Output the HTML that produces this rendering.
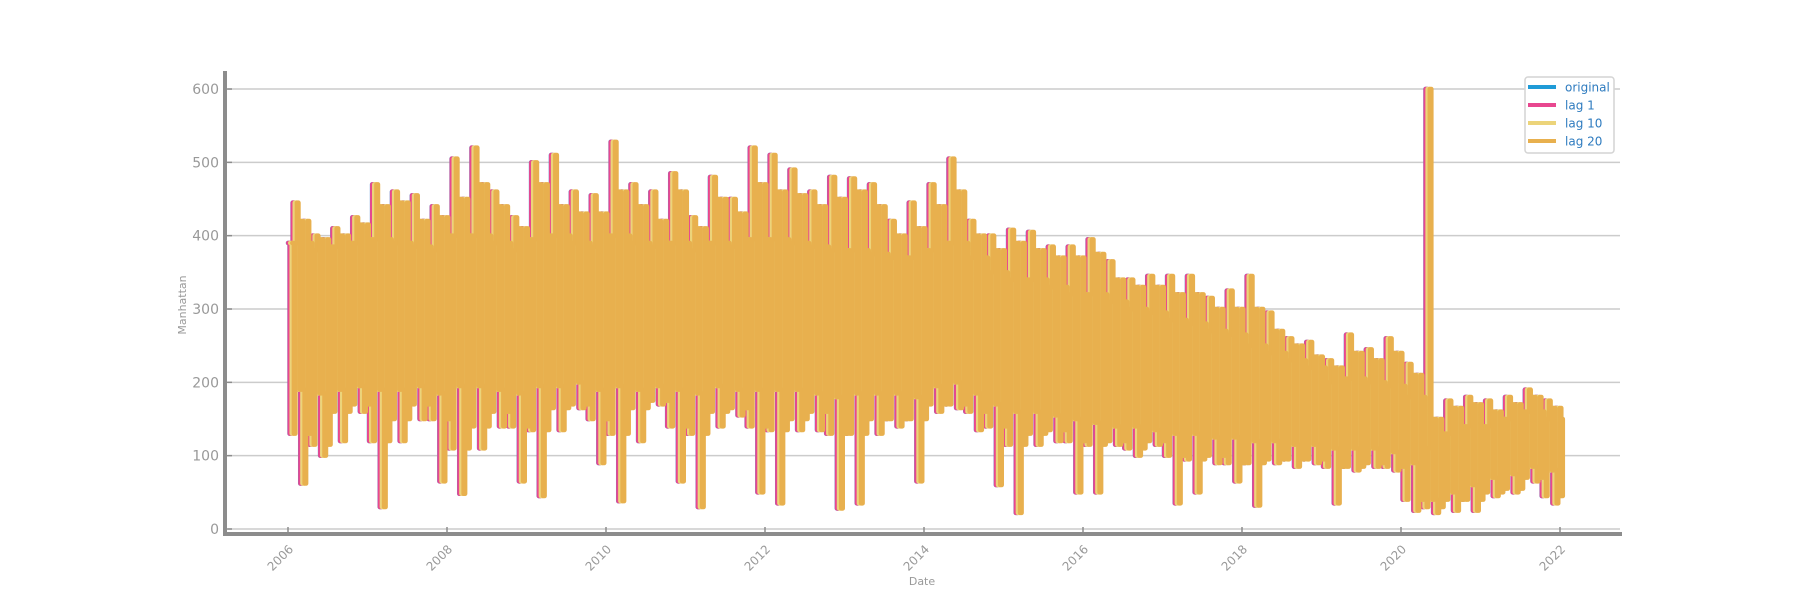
<!DOCTYPE html>
<html><head><meta charset="utf-8"><style>
body{margin:0;background:#fff;font-family:"Liberation Sans","DejaVu Sans",sans-serif}
svg{display:block}
text{font-family:"DejaVu Sans","Liberation Sans",sans-serif}
</style></head><body>
<svg id="chart" width="1800" height="600" viewBox="0 0 1800 600" xmlns="http://www.w3.org/2000/svg">
<g id="grid"></g>
<g id="series"></g>
<g id="axes"></g>
<g id="legend">
<rect x="1525" y="77" width="89" height="76" rx="3" fill="#fff" stroke="#d4d4d4" stroke-width="1.5"/>
<line x1="1528" y1="87" x2="1556" y2="87" stroke="#1f9bd7" stroke-width="4"/>
<text x="1565" y="91.5" font-size="12" fill="#2e7bbf">original</text>
<line x1="1528" y1="105" x2="1556" y2="105" stroke="#e8478f" stroke-width="4"/>
<text x="1565" y="109.5" font-size="12" fill="#2e7bbf">lag 1</text>
<line x1="1528" y1="123" x2="1556" y2="123" stroke="#ecd47a" stroke-width="4"/>
<text x="1565" y="127.5" font-size="12" fill="#2e7bbf">lag 10</text>
<line x1="1528" y1="141" x2="1556" y2="141" stroke="#e8b04e" stroke-width="4"/>
<text x="1565" y="145.5" font-size="12" fill="#2e7bbf">lag 20</text>
</g>
</svg>
<script>
// Quarterly data, 2006 Q1 .. 2021 Q4
const quarterStart = 2006;
const peakValues = [445,400,410,425, 470,460,455,440, 505,520,460,425, 500,510,460,455,
  528,470,460,485, 425,480,450,520, 510,490,460,480, 478,470,420,445,
  470,505,420,400, 408,405,385,385, 395,365,340,345, 345,345,315,325,
  345,295,260,255, 230,265,245,260, 225,600,175,180, 175,180,190,175];
const troughValues = [62,100,120,160, 30,120,150,65, 48,110,140,65, 45,135,165,90,
  38,120,170,65, 30,140,155,50, 35,135,135,28, 35,130,140,65,
  160,165,135,60, 22,115,120,50, 50,115,100,115, 35,50,90,65,
  32,90,85,90, 35,80,85,80, 25,22,25,25, 45,50,65,35];
const secondPeak = [420,395,400,415, 440,445,420,425, 450,470,440,410, 470,440,430,430,
  460,440,420,460, 410,450,430,470, 460,455,440,450, 460,440,400,410,
  440,460,400,380, 390,380,370,370, 375,340,330,330, 320,320,300,300,
  300,270,250,235, 220,240,230,240, 210,150,165,170, 160,170,180,165];
const secondTrough = [130,115,160,170, 120,150,170,150, 110,140,160,140, 135,165,170,150,
  130,165,175,140, 130,160,165,140, 135,150,160,130, 130,150,150,150,
  170,170,160,140, 115,130,135,120, 115,120,110,120, 100,95,100,90,
  90,95,95,95, 85,85,90,85, 40,30,40,40, 50,55,70,45];
const typicalHigh = [390,380,385,390, 395,390,385,380, 400,400,390,380, 395,400,390,385,
  400,390,385,390, 380,390,385,395, 395,390,385,380, 380,375,370,370,
  380,390,370,350, 340,340,330,320, 320,310,300,295, 285,280,270,265,
  250,240,230,220, 200,205,200,195, 180,110,130,140, 140,150,160,150];
const typicalLow = [190,185,190,195, 190,190,195,185, 195,195,190,185, 195,195,200,190,
  195,190,195,190, 185,195,190,190, 190,190,185,180, 185,185,185,180,
  195,200,185,170, 160,160,155,150, 145,140,140,135, 130,130,125,125,
  120,120,115,115, 110,110,110,105, 90,40,50,60, 70,75,85,80];
const yTicks = [0,100,200,300,400,500,600];
const xTicks = [2006,2008,2010,2012,2014,2016,2018,2020,2022];
const lagDays = [0,1,10,20];
const seriesNames = ['original','lag 1','lag 10','lag 20'];
const seriesColors = ['#4a8fd0','#e8478f','#ecd47a','#e8b04e'];

const NS='http://www.w3.org/2000/svg';
const X0=288, PXY=79.5, Y0=529, PXV=0.7333;
const xs = t => X0 + (t-2006)*PXY;
const ys = v => Y0 - v*PXV;
function mk(tag, attrs, parent){const e=document.createElementNS(NS,tag);for(const k in attrs)e.setAttribute(k,attrs[k]);parent.appendChild(e);return e;}

const grid=document.getElementById('grid');
yTicks.forEach(v=>{
  const l=mk('line',{x1:228,x2:1620,y1:ys(v),y2:ys(v),stroke:'#cccccc','stroke-width':1.5},grid);
  
  
});

function weekly(){
  const pts=[];
  for(let q=0;q<peakValues.length;q++){
    for(let w=0;w<13;w++){
      let v;
      if(w===3) v=peakValues[q];
      else if(w===8) v=troughValues[q];
      else if(w===6) v=secondPeak[q];
      else if(w===11) v=secondTrough[q];
      else if(w===1) v=secondTrough[q];
      else if(w===10) v=secondPeak[q];
      else v=(w%2===0)?typicalHigh[q]:typicalLow[q];
      pts.push([quarterStart+q*0.25+w/52, v]);
    }
  }
  return pts;
}
const base=weekly();
const sg=document.getElementById('series');
lagDays.forEach((lag,i)=>{
  const off=lag/365;
  let d='';
  base.forEach((p,j)=>{
    const x=xs(p[0]+off), y=ys(p[1]);
    if(j===0) d+='M'+x+' '+y;
    else d+=' L'+x+' '+ys(base[j-1][1])+' L'+x+' '+y;
    const nx = j+1<base.length ? xs(base[j+1][0]+off) : xs(2021.97+off);
    d+=' L'+(nx)+' '+y;
  });
  const p=mk('path',{d:d,fill:'none',stroke:seriesColors[i],'stroke-width':4.5,'stroke-linejoin':'round','stroke-linecap':'round'},sg);
  
  
});

const ax=document.getElementById('axes');
const ls=mk('line',{x1:225,x2:225,y1:71,y2:536,stroke:'#8c8c8c','stroke-width':4},ax);


const bs=mk('line',{x1:223,x2:1622,y1:534,y2:534,stroke:'#8c8c8c','stroke-width':4},ax);


yTicks.forEach(v=>{
  const tk=mk('line',{x1:227,x2:232,y1:ys(v),y2:ys(v),stroke:'#8c8c8c','stroke-width':1.5},ax);
  
  
  const t=mk('text',{x:219,y:ys(v)+5,'text-anchor':'end','font-size':14,fill:'#999'},ax);
  t.textContent=v;
  
  
});
xTicks.forEach(yr=>{
  const x=xs(yr);
  const tk=mk('line',{x1:x,x2:x,y1:527,y2:532,stroke:'#8c8c8c','stroke-width':1.5},ax);
  
  
  const t=mk('text',{x:x+6,y:550,'text-anchor':'end','font-size':12,fill:'#999',transform:'rotate(-45 '+(x+6)+' 550)'},ax);
  t.textContent=yr;
  
  
});
const yl=mk('text',{x:0,y:0,'text-anchor':'middle','font-size':11,fill:'#999',transform:'translate(186 305) rotate(-90)'},ax);
yl.textContent='Manhattan';


const xl=mk('text',{x:922,y:585,'text-anchor':'middle','font-size':11,fill:'#999'},ax);
xl.textContent='Date';


</script>
</body></html>
